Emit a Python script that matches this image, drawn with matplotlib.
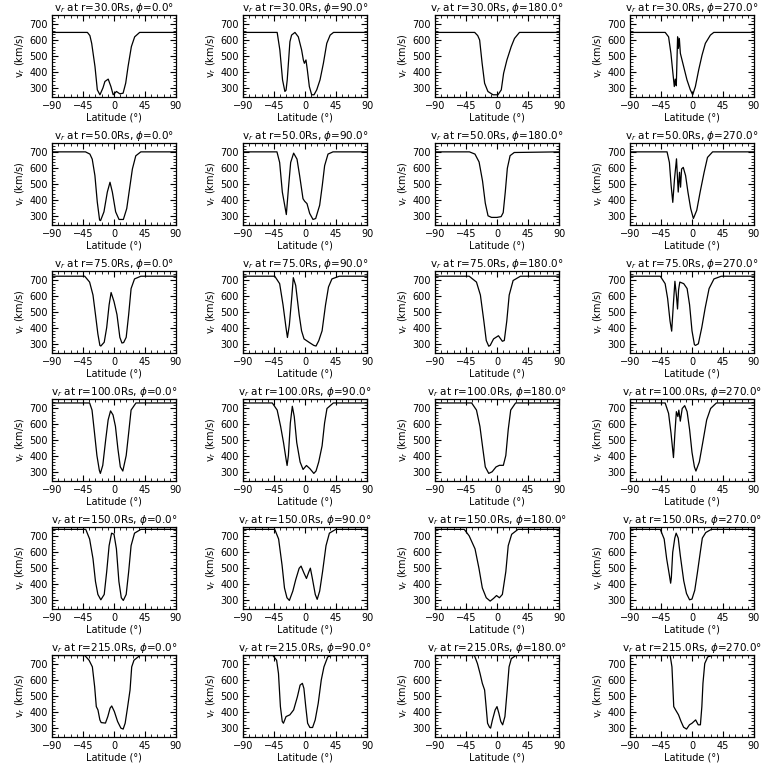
import matplotlib
matplotlib.use("Agg")
import matplotlib.pyplot as plt
from matplotlib.ticker import AutoMinorLocator

radii = [30.0, 50.0, 75.0, 100.0, 150.0, 215.0]
phis = [0.0, 90.0, 180.0, 270.0]

# (latitude, v_r) points
r30_phi0 = [(-90, 650), (-38.6, 650), (-35, 630), (-32.4, 581), (-27.6, 434), (-24.2, 287), (-20.4, 256),
            (-16, 300), (-13.2, 340), (-8.4, 355), (-4.5, 308), (-1.2, 256), (3.6, 277), (8.4, 262),
            (13.2, 266), (17, 330), (20.4, 434), (25.2, 560), (30, 622), (37.2, 650), (90, 650)]
r30_phi90 = [(-90, 650), (-40.4, 650), (-36.5, 539), (-32.6, 350), (-29.2, 277), (-27.5, 285), (-25.8, 350),
             (-21.9, 591), (-19.5, 633), (-14.6, 650), (-9.7, 622), (-4.9, 539), (-2.4, 476), (-0.9, 455),
             (1.4, 476), (3.4, 413), (6.3, 308), (9.7, 256), (13.1, 256), (17, 287), (21.8, 350),
             (26.7, 455), (31.6, 581), (36.5, 633), (41.4, 650), (90, 650)]
r30_phi180 = [(-90, 650), (-32.4, 650), (-28, 630), (-25.2, 602), (-21.6, 455), (-18, 329), (-13.2, 277),
              (-5.8, 256), (1.4, 256), (6.2, 287), (9.6, 392), (14.4, 476), (20.6, 560), (25.4, 612),
              (32.6, 650), (90, 650)]
r30_phi270 = [(-90, 650), (-38.9, 650), (-34, 622), (-30.6, 518), (-27.7, 392), (-25.7, 308), (-24.3, 355),
              (-22.8, 313), (-20.9, 622), (-19.8, 549), (-18.4, 612), (-16.9, 518), (-12.1, 434),
              (-7.3, 350), (-2.4, 287), (1, 256), (4.9, 308), (9.7, 413), (14.6, 507), (19.4, 581),
              (26.7, 633), (31.6, 650), (90, 650)]

r50_phi0 = [(-90, 704), (-41.4, 704), (-35, 690), (-31.6, 658), (-27.7, 554), (-24.3, 388), (-20.9, 273),
            (-19.5, 270), (-14.6, 325), (-9.7, 450), (-5.8, 512), (-2.4, 450), (2.4, 325), (7.3, 277),
            (13.6, 277), (18.5, 346), (21.9, 450), (26.7, 596), (31.6, 679), (38.9, 704), (90, 704)]
r50_phi90 = [(-90, 704), (-40.7, 704), (-36.8, 637), (-32.9, 450), (-29.5, 367), (-27.1, 308), (-23.7, 492),
             (-20.8, 637), (-16.5, 696), (-11.6, 658), (-7.8, 554), (-2.9, 408), (-0.5, 392), (2.9, 377),
             (6.8, 315), (11.6, 277), (15.5, 283), (21.3, 367), (25.1, 492), (28.5, 617), (33.4, 690),
             (40.6, 704), (90, 704)]
r50_phi180 = [(-90, 704), (-40, 704), (-32, 690), (-26, 640), (-21, 520), (-17, 380), (-13, 300),
              (-8, 290), (0, 290), (6, 295), (9, 320), (12, 450), (15, 600), (19, 680), (25, 700), (90, 704)]
r50_phi270 = [(-90, 704), (-36.2, 704), (-32.8, 637), (-30.3, 492), (-27.9, 385), (-25.4, 533), (-22.5, 660),
              (-20, 450), (-18.1, 575), (-16.6, 481), (-15.1, 596), (-12.7, 606), (-9.3, 554), (-5.9, 450),
              (-1.9, 346), (2, 283), (6.9, 335), (11.8, 450), (17.6, 575), (22.5, 669), (29.9, 704), (90, 704)]

r75_phi0 = [(-90, 727), (-42.5, 727), (-35.4, 690), (-30.5, 608), (-26.9, 485), (-23.4, 362), (-20.5, 290),
            (-19.1, 286), (-14.2, 310), (-10.6, 403), (-7.1, 546), (-4.2, 624), (0, 567), (4.3, 485),
            (8.5, 341), (11.5, 305), (14, 308), (17.7, 341), (21.3, 485), (24.8, 649), (29.8, 710),
            (39, 727), (90, 727)]
r75_phi90 = [(-90, 727), (-43.9, 727), (-36.8, 680), (-31.9, 546), (-27.6, 403), (-25.5, 340), (-22.7, 420),
             (-19.1, 600), (-17, 718), (-13.5, 669), (-8.5, 485), (-5, 382), (-1.4, 331), (5.7, 310),
             (12.8, 290), (16, 286), (20, 320), (24.8, 382), (29.8, 546), (34.1, 659), (39.1, 710),
             (49.7, 727), (90, 727)]
r75_phi180 = [(-90, 727), (-40.4, 727), (-29.8, 690), (-24.1, 608), (-19.1, 444), (-15.6, 321), (-12, 285),
              (-9.9, 290), (-5, 331), (2.1, 351), (7.8, 316), (10.6, 321), (14.2, 444), (17.7, 608),
              (23.4, 700), (34, 727), (90, 727)]
r75_phi270 = [(-90, 727), (-46, 727), (-39, 680), (-35.4, 587), (-31.9, 444), (-29.5, 380), (-26.9, 560),
              (-24.8, 695), (-22.5, 600), (-21, 520), (-19.5, 640), (-17.7, 690), (-12, 680), (-7.1, 649),
              (-3.5, 546), (0, 382), (3.5, 295), (5, 290), (9.2, 300), (14.2, 403), (19.1, 526), (24.8, 649),
              (31.9, 710), (42.5, 727), (90, 727)]

r100_phi0 = [(-90, 735), (-35.4, 735), (-31.9, 690), (-28.3, 546), (-24.8, 403), (-21.3, 310), (-19.8, 290),
             (-16.3, 341), (-12, 505), (-8.5, 628), (-5, 685), (-1.4, 659), (2.1, 587), (5.7, 444),
             (9.2, 331), (12.8, 305), (17.7, 403), (21.3, 546), (24.8, 690), (31.9, 735), (90, 735)]
r100_phi90 = [(-90, 735), (-47.5, 735), (-40.4, 690), (-35.4, 587), (-31.2, 485), (-27.5, 380), (-26, 340),
              (-24.1, 403), (-21.3, 608), (-18.4, 714), (-15.6, 649), (-12, 485), (-7.1, 362), (-2.8, 315),
              (2.1, 340), (7.1, 320), (12.8, 290), (16, 305), (19.9, 362), (24.8, 464), (28.4, 608),
              (31.9, 700), (41.1, 735), (90, 735)]
r100_phi180 = [(-90, 735), (-36.8, 735), (-29.8, 690), (-24.8, 587), (-20.5, 444), (-17, 331), (-12, 290),
               (-7.1, 300), (-1.4, 331), (3.5, 341), (9.2, 341), (12.8, 403), (16.3, 567), (19.9, 690),
               (27, 735), (90, 735)]
r100_phi270 = [(-90, 735), (-39, 735), (-34, 669), (-30.5, 546), (-26.9, 390), (-24.8, 546), (-22.7, 680),
               (-20.5, 649), (-19.1, 690), (-17, 620), (-14.2, 700), (-10.6, 718), (-7.1, 680), (-3.5, 567),
               (0, 423), (3.5, 331), (5.7, 305), (10.6, 362), (15.6, 485), (21.3, 628), (27, 700),
               (35.4, 735), (90, 735)]

r150_phi0 = [(-90, 745), (-41, 745), (-35.4, 684), (-30.5, 560), (-26.9, 416), (-23.4, 334), (-19.1, 300),
             (-14.2, 334), (-10.6, 478), (-7.1, 642), (-3.5, 721), (0, 714), (3.5, 622), (7.1, 416),
             (10.6, 313), (13.5, 296), (17.7, 334), (21.3, 478), (24.8, 642), (29.8, 721), (39, 745), (90, 745)]
r150_phi90 = [(-90, 745), (-43.9, 745), (-38.3, 684), (-33.3, 519), (-29.8, 375), (-26.2, 313), (-22.7, 296),
              (-17.7, 355), (-13.5, 427), (-8.5, 499), (-5.7, 513), (-1.4, 468), (2.1, 435), (5.7, 478),
              (7.8, 500), (10.6, 437), (14.9, 334), (17.7, 303), (21.3, 355), (25.5, 478), (30.5, 642),
              (35.4, 721), (44.6, 745), (90, 745)]
r150_phi180 = [(-90, 745), (-47.5, 745), (-40.4, 704), (-31.9, 622), (-26.2, 499), (-21.3, 375), (-15.6, 313),
               (-9.9, 292), (-5, 309), (-0.7, 327), (3.5, 313), (7.8, 334), (12.8, 478), (16.3, 642),
               (21.3, 714), (30.5, 745), (90, 745)]
r150_phi270 = [(-90, 745), (-46, 745), (-40.4, 684), (-36.8, 560), (-33, 460), (-31, 405), (-30, 440),
               (-28, 600), (-25, 690), (-23, 721), (-20, 690), (-17, 580), (-12, 420), (-8, 340), (-3.5, 300),
               (0, 305), (4, 360), (7.8, 470), (12, 600), (15, 690), (20, 725), (28, 745), (90, 745)]

r215_phi0 = [(-90, 757), (-42.4, 757), (-36.2, 727), (-31.4, 685), (-28.1, 560), (-25.7, 434), (-23.3, 413),
             (-20.5, 350), (-18.6, 333), (-12.4, 330), (-9, 371), (-5.7, 424), (-3.3, 438), (0.5, 403),
             (5.2, 340), (10, 298), (13.3, 292), (16.2, 329), (19.5, 424), (23.3, 539), (25.7, 685),
             (29, 727), (37.6, 757), (90, 757)]
r215_phi90 = [(-90, 757), (-46.6, 757), (-41.2, 727), (-38.5, 643), (-35.7, 434), (-33, 340), (-31.3, 329),
              (-27.5, 371), (-22, 382), (-16.5, 413), (-11, 497), (-7.1, 570), (-3.8, 581), (-1.6, 549),
              (1.1, 434), (3.8, 329), (7.1, 302), (11, 302), (14.8, 350), (19.2, 455), (23.6, 602),
              (27.5, 685), (33, 748), (38.5, 757), (90, 757)]
r215_phi180 = [(-90, 757), (-32.8, 757), (-28.4, 706), (-24.6, 643), (-21.3, 581), (-18, 539), (-15.8, 434),
               (-13.7, 329), (-10.9, 304), (-9.3, 298), (-6.6, 350), (-2.7, 413), (0, 434), (2.7, 392),
               (5.5, 340), (8.2, 319), (11.5, 371), (14.8, 539), (17.5, 685), (20.8, 737), (27.3, 757), (90, 757)]
r215_phi270 = [(-90, 757), (-31.7, 757), (-29.1, 685), (-26.5, 434), (-23.8, 413), (-19.6, 382), (-15.9, 340),
               (-12.2, 304), (-7.9, 292), (-3.7, 319), (0, 329), (5.3, 350), (9, 319), (12.2, 319),
               (14.3, 434), (15.9, 581), (18.5, 706), (22.8, 748), (29.1, 757), (90, 757)]

curves = [
    [r30_phi0, r30_phi90, r30_phi180, r30_phi270],
    [r50_phi0, r50_phi90, r50_phi180, r50_phi270],
    [r75_phi0, r75_phi90, r75_phi180, r75_phi270],
    [r100_phi0, r100_phi90, r100_phi180, r100_phi270],
    [r150_phi0, r150_phi90, r150_phi180, r150_phi270],
    [r215_phi0, r215_phi90, r215_phi180, r215_phi270],
]

plt.rcParams['font.family'] = ['DejaVu Sans']
fig = plt.figure(figsize=(7.68, 7.68), dpi=100)
W = 768.0
col_left = [52, 243, 435, 630]

for i, r in enumerate(radii):
    for j, phi in enumerate(phis):
        top = 15 + 128 * i
        ax = fig.add_axes([col_left[j] / W, 1 - (top + 82) / W, 124 / W, 82 / W])
        pts = curves[i][j]
        ax.plot([p[0] for p in pts], [p[1] for p in pts], color='black', lw=0.9)
        ax.set_xlim(-90, 90)
        ax.set_ylim(242, 760)
        ax.set_xticks([-90, -45, 0, 45, 90])
        ax.set_yticks([300, 400, 500, 600, 700])
        ax.xaxis.set_minor_locator(AutoMinorLocator(5))
        ax.yaxis.set_minor_locator(AutoMinorLocator(5))
        ax.tick_params(which='both', direction='in', top=True, right=True, labelsize=7, pad=3)
        ax.tick_params(which='major', length=4)
        ax.tick_params(which='minor', length=2)
        for s in ax.spines.values():
            s.set_linewidth(0.9)
        ax.set_title(r"v$_r$ at r=%.1fRs, $\phi$=%.1f°" % (r, phi), fontsize=7.5, pad=2)
        ax.set_xlabel("Latitude (°)", fontsize=7, labelpad=1)
        ax.set_ylabel("v$_r$ (km/s)", fontsize=7, labelpad=2)

fig.savefig("out.png", dpi=100)
